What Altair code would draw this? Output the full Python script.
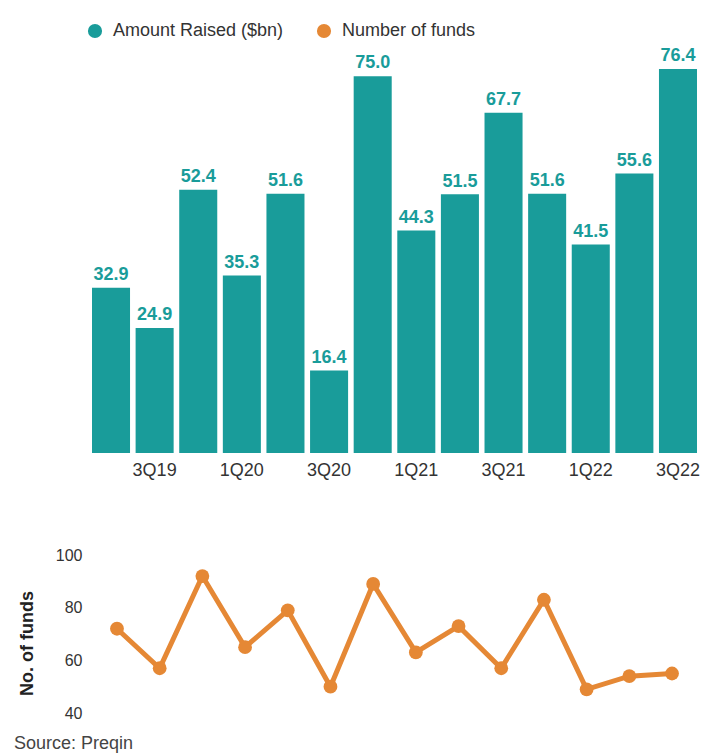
import altair as alt
import pandas as pd

quarters = ["2Q19", "3Q19", "4Q19", "1Q20", "2Q20", "3Q20", "4Q20",
            "1Q21", "2Q21", "3Q21", "4Q21", "1Q22", "2Q22", "3Q22"]
amount_raised = [32.9, 24.9, 52.4, 35.3, 51.6, 16.4, 75.0,
                 44.3, 51.5, 67.7, 51.6, 41.5, 55.6, 76.4]
num_funds = [72, 57, 92, 65, 79, 50, 89, 63, 73, 57, 83, 49, 54, 55]
shown_ticks = ["3Q19", "1Q20", "3Q20", "1Q21", "3Q21", "1Q22", "3Q22"]
series_names = ["Amount Raised ($bn)", "Number of funds"]
funds_ticks = [40, 60, 80, 100]
source_note = ["Source: Preqin"]

TEAL = "#199c9a"
ORANGE = "#e58835"
FONT = "Liberation Sans"

df_bar = pd.DataFrame({"quarter": quarters, "value": amount_raised,
                       "series": series_names[0]})
df_line = pd.DataFrame({"quarter": quarters, "funds": num_funds,
                        "series": series_names[1]})
df_note = pd.DataFrame({"t": source_note})

color_scale = alt.Scale(domain=series_names, range=[TEAL, ORANGE])

base = alt.Chart(df_bar).encode(
    x=alt.X("quarter:N", sort=quarters,
            scale=alt.Scale(paddingInner=0.128, paddingOuter=0),
            axis=alt.Axis(values=shown_ticks, labelAngle=0, domain=False,
                          ticks=False, labelPadding=8, labelFontSize=18,
                          labelColor="#333333", title=None)),
    y=alt.Y("value:Q", scale=alt.Scale(domain=[0, 80], nice=False),
            axis=None),
)

bars = base.mark_bar().encode(
    color=alt.Color("series:N", scale=color_scale,
                    legend=alt.Legend(title=None, orient="none",
                                      legendX=-6, legendY=-29,
                                      direction="horizontal",
                                      symbolType="circle", symbolSize=200,
                                      symbolStrokeWidth=0, symbolOpacity=1,
                                      labelFontSize=18, labelColor="#333333",
                                      labelFont=FONT, labelLimit=400,
                                      labelOffset=9, columnPadding=31,
                                      padding=0))
)
labels = base.mark_text(baseline="alphabetic", dy=-7.7, fontSize=18,
                        fontWeight="bold", color=TEAL, font=FONT).encode(
    text=alt.Text("value:Q", format=".1f")
)
top = alt.layer(bars, labels).properties(width=605, height=402)

line = alt.Chart(df_line).mark_line(
    strokeWidth=5,
    point=alt.OverlayMarkDef(size=190, filled=True, opacity=1, color=ORANGE),
).encode(
    x=alt.X("quarter:N", sort=quarters,
            scale=alt.Scale(type="point", padding=0.585), axis=None),
    y=alt.Y("funds:Q", scale=alt.Scale(domain=[40, 100], nice=False),
            axis=alt.Axis(values=funds_ticks, grid=False, domain=False,
                          ticks=False, labelPadding=10, labelFontSize=16,
                          labelColor="#333333", title="No. of funds",
                          titleFontSize=18, titleFontWeight="bold",
                          titleColor="#222222", titlePadding=19,
                          titleY=88)),
    color=alt.Color("series:N", scale=color_scale, legend=None),
)
note = alt.Chart(df_note).mark_text(align="left", baseline="alphabetic",
                                    fontSize=18, color="#444444",
                                    font=FONT).encode(
    text="t:N", x=alt.value(-78), y=alt.value(193.5)
)
bottom = alt.layer(line, note).properties(width=605, height=158)

chart = alt.vconcat(top, bottom, spacing=68).resolve_scale(
    x="independent", y="independent", color="shared"
).properties(
    padding={"left": 6, "top": 14, "right": 5, "bottom": 5}
).configure(font=FONT).configure_view(stroke=None)

chart.save("out.html", embed_options={"renderer": "svg", "actions": False})
